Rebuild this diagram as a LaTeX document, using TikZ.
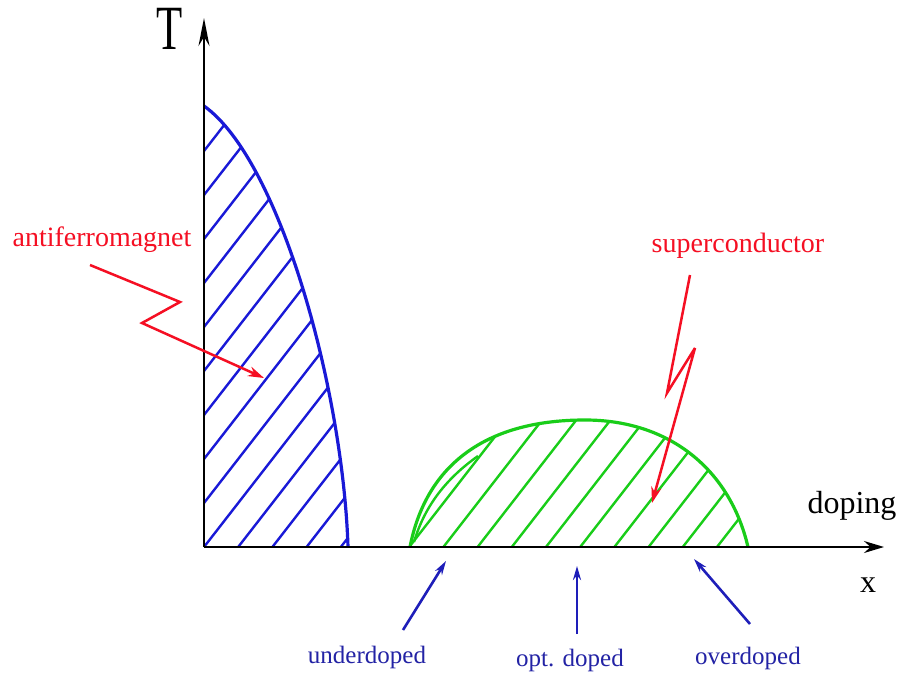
\documentclass[tikz,border=0pt]{standalone}
\usepackage{fontspec}
\setmainfont{Liberation Serif}
\usetikzlibrary{arrows.meta}
\definecolor{afblue}{RGB}{25,25,215}
\definecolor{scgreen}{RGB}{25,205,25}
\definecolor{lblred}{RGB}{245,15,35}
\definecolor{dopblue}{RGB}{35,35,165}
\definecolor{arrblue}{RGB}{30,30,185}
\begin{document}
\begin{tikzpicture}[x=1pt,y=-1pt,
  axisline/.style={line width=1.7pt,black},
  afline/.style={line width=3.2pt,afblue},
  afhatch/.style={line width=2.4pt,afblue},
  scline/.style={line width=3.2pt,scgreen},
  schatch/.style={line width=2.4pt,scgreen},
  redarrow/.style={line width=2.5pt,lblred,miter limit=6,-{Stealth[length=16pt,width=10pt]}},
  dopearrow/.style={line width=2.6pt,arrblue,-{Stealth[length=14pt,width=8pt]}},
  redlabel/.style={text=lblred,font=\fontsize{28}{30}\selectfont,anchor=base,inner sep=0pt},
  dopelabel/.style={text=dopblue,font=\fontsize{25}{27}\selectfont,anchor=base,inner sep=0pt},
  axlabel/.style={text=black,font=\fontsize{32}{34}\selectfont,anchor=base,inner sep=0pt}]
\useasboundingbox (0,0) rectangle (922,677);
\fill[white] (0,0) rectangle (922,677);

% coordinates
\coordinate (O) at (204,547);
\coordinate (ytip) at (204,18);
\coordinate (xtip) at (884,547);

% antiferromagnet region hatching
\begin{scope}
  \clip (204,106) .. controls (280,160) and (343,390) .. (348,547) -- (204,547) -- cycle;
  \foreach \j in {-12,...,5} {
    \draw[afhatch] ({204+34.2*\j-34.2},{547+44}) -- ({204+34.2*\j+34.2*12},{547-44*12});
  }
\end{scope}
\draw[afline] (204,106) .. controls (280,160) and (343,390) .. (348,547);

% superconductor dome hatching
\begin{scope}
  \clip (410,547) .. controls (425,470) and (480,420) .. (585,420) .. controls (670,420) and (730,470) .. (748,547) -- cycle;
  \foreach \j in {5,...,17} {
    \draw[schatch] ({204+34.2*\j-34.2},{547+44}) -- ({204+34.2*\j+34.2*12},{547-44*12});
  }
\end{scope}
\draw[scline] (410,547) .. controls (425,470) and (480,420) .. (585,420) .. controls (670,420) and (730,470) .. (748,547);
\draw[schatch] (414,542) .. controls (425,505) and (447,478) .. (478,456);

% axes
\draw[axisline,-{Stealth[length=28pt,width=11pt]}] (O) -- (ytip);
\draw[axisline,-{Stealth[length=20pt,width=12pt]}] (O) -- (xtip);

% axis labels
\node[text=black,font=\fontsize{63}{63}\selectfont,anchor=base,inner sep=0pt] (T) at (170,50) {\scalebox{0.68}[1]{T}};
\node[axlabel] (doping) at (852,513) {doping};
\node[axlabel] (xlab) at (868,592) {x};

% red labels and arrows
\node[redlabel] (af) at (102,246) {antiferromagnet};
\node[redlabel] (sc) at (738,252) {superconductor};
\coordinate (afs) at (90,265);
\coordinate (afa) at (180,302);
\coordinate (afb) at (142,323);
\coordinate (afe) at (264,378);
\draw[redarrow] (afs) -- (afa) -- (afb) -- (afe);
\coordinate (scs) at (690,275);
\coordinate (sca) at (667,393);
\coordinate (scb) at (695,348);
\coordinate (sce) at (652,503);
\draw[redarrow] (scs) -- (sca) -- (scb) -- (sce);

% doping labels and arrows
\node[dopelabel] (under) at (367,663) {underdoped};
\node[dopelabel] (opt) at (570,666) {opt. doped};
\node[dopelabel] (over) at (748,664) {overdoped};
\coordinate (unds) at (403,630);
\coordinate (unde) at (446,561);
\coordinate (opts) at (577,634);
\coordinate (opte) at (577,566);
\coordinate (ovs) at (750,624);
\coordinate (ove) at (694,559);
\draw[dopearrow] (unds) -- (unde);
\draw[dopearrow] (opts) -- (opte);
\draw[dopearrow] (ovs) -- (ove);
\end{tikzpicture}
\end{document}
